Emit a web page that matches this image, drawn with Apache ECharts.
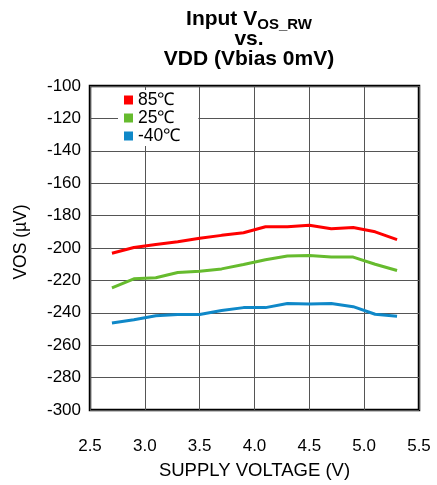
<!DOCTYPE html>
<html>
<head>
<meta charset="utf-8">
<script src="https://cdn.jsdelivr.net/npm/echarts@6/dist/echarts.min.js"></script>
<style>
html,body{margin:0;padding:0;background:#fff;}
#chart{width:437px;height:485px;}
</style>
</head>
<body>
<div id="chart"></div>
<script>
const voltages = [2.7, 2.9, 3.1, 3.3, 3.5, 3.7, 3.9, 4.1, 4.3, 4.5, 4.7, 4.9, 5.1, 5.3];
const vos85 = [-203.2, -199.7, -197.9, -196.2, -194.0, -192.2, -190.6, -186.9, -186.9, -185.9, -188.1, -187.4, -190.0, -194.8];
const vos25 = [-224.6, -219.0, -218.4, -215.1, -214.3, -212.9, -210.2, -207.2, -205.0, -204.7, -205.6, -205.6, -210.0, -213.9];
const vosM40 = [-246.3, -244.3, -241.8, -241.0, -241.0, -238.6, -236.8, -236.8, -234.2, -234.5, -234.2, -236.2, -240.9, -242.2];
const seriesNames = ['85\u2103', '25\u2103', '-40\u2103'];
const xTicks = [2.5, 3.0, 3.5, 4.0, 4.5, 5.0, 5.5];
const yTicks = [-100, -120, -140, -160, -180, -200, -220, -240, -260, -280, -300];

const colors = ['#ff0000', '#66bb2e', '#0f88c8'];
const FONT = 'Liberation Sans, Arial, sans-serif';

function pairs(vals) { return voltages.map((v, i) => [v, vals[i]]); }

const chart = echarts.init(document.getElementById('chart'), null, {renderer: 'canvas'});
chart.setOption({
  animation: false,
  backgroundColor: '#fff',
  title: {
    text: '{a|Input V}{s|OS_RW}\n{a|vs.}\n{a|VDD (Vbias 0mV)}',
    left: 244,
    textAlign: 'center',
    top: 5,
    textStyle: {
      rich: {
        a: {fontFamily: FONT, fontWeight: 'bold', fontSize: 21, color: '#000', lineHeight: 20, verticalAlign: 'bottom'},
        s: {fontFamily: FONT, fontWeight: 'bold', fontSize: 15, color: '#000', lineHeight: 20, verticalAlign: 'bottom', padding: [0, 0, -2, 0]}
      }
    }
  },
  legend: {
    data: seriesNames,
    orient: 'vertical',
    left: 118,
    top: 90,
    icon: 'rect',
    itemWidth: 9,
    itemHeight: 9,
    itemGap: 0,
    padding: [1, 18, 1, 6],
    backgroundColor: '#fff',
    textStyle: {fontFamily: FONT, fontSize: 17.5, color: '#000'},
    selectedMode: false
  },
  grid: {
    left: 90, right: 18, top: 86, bottom: 70,
    show: true, borderColor: '#000', borderWidth: 2.5, backgroundColor: 'transparent'
  },
  xAxis: {
    type: 'value',
    min: xTicks[0], max: xTicks[xTicks.length - 1], interval: 0.5,
    name: 'SUPPLY VOLTAGE (V)',
    nameLocation: 'middle',
    nameGap: 51,
    nameTextStyle: {fontFamily: FONT, fontSize: 18.5, color: '#000'},
    axisLine: {show: false},
    axisTick: {show: false},
    axisLabel: {fontFamily: FONT, fontSize: 17, color: '#000', margin: 28, formatter: v => v.toFixed(1)},
    splitLine: {show: true, lineStyle: {color: '#555', width: 1}}
  },
  yAxis: {
    type: 'value',
    min: yTicks[yTicks.length - 1], max: yTicks[0], interval: 20,
    name: 'VOS (\u00b5V)',
    nameLocation: 'middle',
    nameGap: 60,
    nameTextStyle: {fontFamily: FONT, fontSize: 17.5, color: '#000', padding: [0, 0, 0, 12]},
    axisLine: {show: false},
    axisTick: {show: false},
    axisLabel: {fontFamily: FONT, fontSize: 17, color: '#000', margin: 9},
    splitLine: {show: true, lineStyle: {color: '#555', width: 1}}
  },
  series: [vos85, vos25, vosM40].map((vals, i) => ({
    name: seriesNames[i],
    type: 'line',
    data: pairs(vals),
    showSymbol: false,
    symbol: 'none',
    lineStyle: {color: colors[i], width: 3},
    itemStyle: {color: colors[i]},
    z: 3
  }))
});
</script>
</body>
</html>
